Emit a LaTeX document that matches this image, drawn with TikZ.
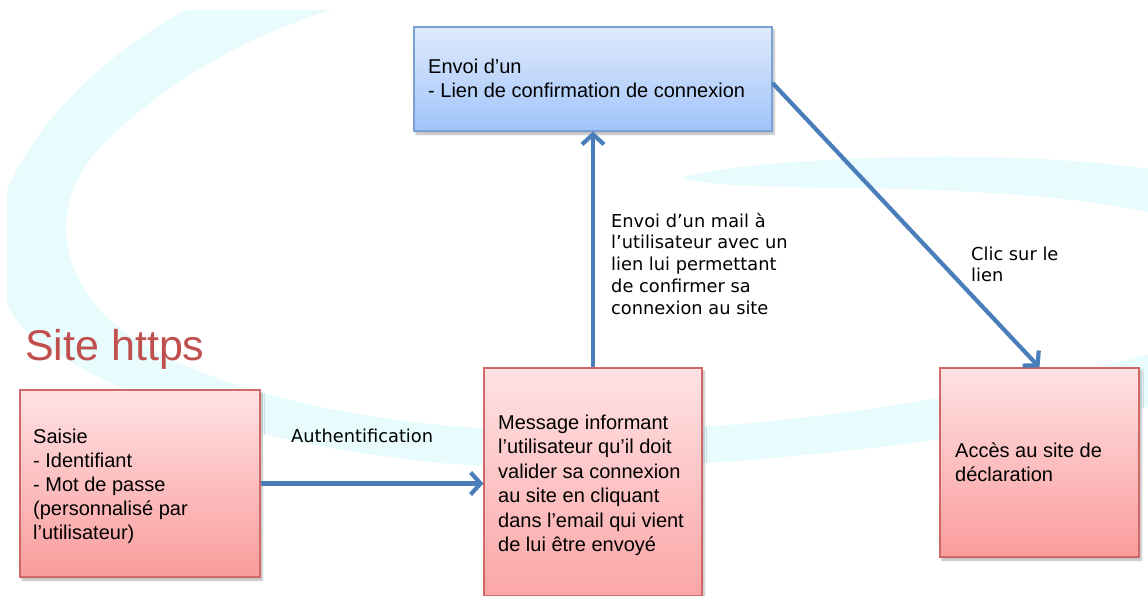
\documentclass[tikz,border=0pt]{standalone}
\usepackage{fontspec}
\setmainfont{Liberation Sans}
\newfontfamily\verdanalike{DejaVu Sans}
\usetikzlibrary{arrows.meta,shadows.blur}
\definecolor{swoosh}{RGB}{232,251,253}
\definecolor{pinktop}{RGB}{255,226,228}
\definecolor{pinkbot}{RGB}{250,156,156}
\definecolor{pinkmsgbot}{RGB}{251,166,166}
\definecolor{pinkline}{RGB}{208,104,104}
\definecolor{bluetop}{RGB}{223,234,252}
\definecolor{bluebot}{RGB}{160,196,250}
\definecolor{blueline}{RGB}{122,160,214}
\definecolor{arrowblue}{RGB}{74,126,187}
\definecolor{titlered}{RGB}{192,80,77}
\tikzset{
  boxbase/.style={rectangle, inner sep=0pt, line width=1.1pt,
    blur shadow={shadow xshift=2pt, shadow yshift=-3pt, shadow blur steps=6, shadow opacity=30}},
  pinkbox/.style={boxbase, draw=pinkline, top color=pinktop, bottom color=pinkbot},
  bluebox/.style={boxbase, draw=blueline, top color=bluetop, bottom color=bluebot},
  boxtext/.style={anchor=base west, inner sep=0pt, font=\fontsize{20}{24}\selectfont},
  lbltext/.style={anchor=base west, inner sep=0pt, font=\verdanalike\fontsize{17.8}{21.75}\selectfont},
  flow/.style={draw=arrowblue, line width=4.2pt,
    -{Straight Barb[length=10pt,width=22pt,line width=4.2pt]}}
}
\begin{document}
\begin{tikzpicture}[x=1pt,y=-1pt]
\useasboundingbox (0,0) rectangle (1148,596);
% background swooshes
\begin{scope}
\clip (7,10) rectangle (1148,596);
\fill[swoosh] (186,10) .. controls (110,50) and (35,120) .. (5,195)
  .. controls (-10,250) and (-5,300) .. (25,330)
  .. controls (90,385) and (220,440) .. (440,463)
  .. controls (620,478) and (860,458) .. (1160,405)
  -- (1160,352)
  .. controls (900,415) and (660,445) .. (440,425)
  .. controls (270,408) and (135,360) .. (92,300)
  .. controls (50,245) and (60,180) .. (115,133)
  .. controls (170,80) and (250,35) .. (331,10) -- cycle;
\fill[swoosh] (682,178) .. controls (720,165) and (850,155) .. (980,157)
  .. controls (1060,158) and (1120,165) .. (1160,170)
  -- (1160,215)
  .. controls (1100,200) and (1000,190) .. (850,188)
  .. controls (760,187) and (700,185) .. (682,178) -- cycle;
\end{scope}
% boxes
\node[bluebox, minimum width=358pt, minimum height=104pt] (envoi) at (593,79) {};
\node[pinkbox, minimum width=240pt, minimum height=187pt] (saisie) at (140,483.5) {};
\node[pinkbox, bottom color=pinkmsgbot, minimum width=218pt, minimum height=228pt] (msg) at (593,482) {};
\node[pinkbox, minimum width=199pt, minimum height=189pt] (acces) at (1039.5,462.5) {};
% box texts
\node[boxtext] (envoitxt) at (428,74) {\begin{tabular}[t]{@{}l@{}}Envoi d’un\\- Lien de confirmation de connexion\end{tabular}};
\node[boxtext] (saisietxt) at (33,443) {\begin{tabular}[t]{@{}l@{}}Saisie\\- Identifiant\\- Mot de passe\\(personnalisé par\\l’utilisateur)\end{tabular}};
\node[boxtext, font=\fontsize{20}{24.5}\selectfont] (msgtxt) at (498,429) {\begin{tabular}[t]{@{}l@{}}Message informant\\l’utilisateur qu’il doit\\valider sa connexion\\au site en cliquant\\dans l’email qui vient\\de lui être envoyé\end{tabular}};
\node[boxtext] (accestxt) at (955,457) {\begin{tabular}[t]{@{}l@{}}Accès au site de\\déclaration\end{tabular}};
% title
\node[anchor=base west, inner sep=0pt, text=titlered, font=\fontsize{43}{50}\selectfont] (title) at (25,360) {Site https};
% connectors
\draw[flow] (saisie.east) -- (saisie.east -| msg.west);
\draw[flow] (msg.north) -- (envoi.south);
\draw[flow] ([yshift=-4pt]envoi.east) -- (acces.north);
% connector labels
\node[lbltext] (lauth) at (291,442) {Authentification};
\node[lbltext] (lmail) at (611,227) {\begin{tabular}[t]{@{}l@{}}Envoi d’un mail à\\l’utilisateur avec un\\lien lui permettant\\de confirmer sa\\connexion au site\end{tabular}};
\node[lbltext] (lclic) at (971,260) {\begin{tabular}[t]{@{}l@{}}Clic sur le\\lien\end{tabular}};
\end{tikzpicture}
\end{document}
